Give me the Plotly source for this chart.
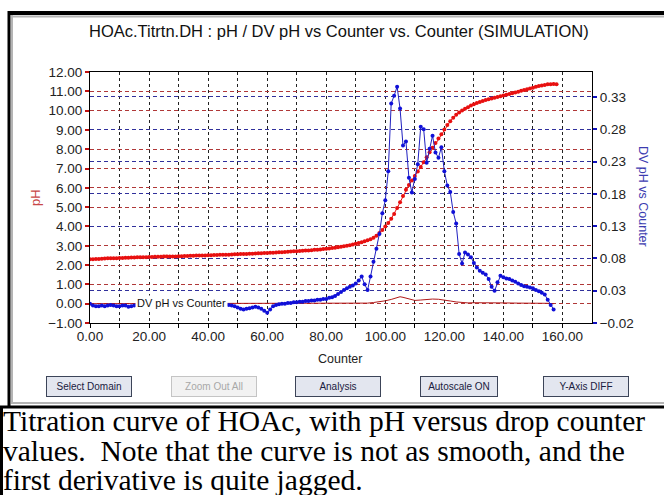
import plotly.graph_objects as go

# ---------------- DATA ----------------
counter_ph = list(range(0, 159))
ph_values = [
    2.30, 2.30, 2.31, 2.32, 2.33, 2.34, 2.35, 2.35, 2.36, 2.36,
    2.37, 2.37, 2.38, 2.38, 2.39, 2.39, 2.40, 2.40, 2.41, 2.41,
    2.42, 2.42, 2.43, 2.43, 2.43, 2.44, 2.44, 2.45, 2.45, 2.45,
    2.46, 2.46, 2.47, 2.47, 2.48, 2.48, 2.49, 2.49, 2.50, 2.50,
    2.51, 2.51, 2.52, 2.52, 2.53, 2.53, 2.54, 2.54, 2.55, 2.56,
    2.56, 2.57, 2.57, 2.58, 2.59, 2.59, 2.60, 2.61, 2.61, 2.62,
    2.63, 2.64, 2.64, 2.65, 2.66, 2.67, 2.68, 2.69, 2.70, 2.71,
    2.72, 2.73, 2.74, 2.75, 2.76, 2.77, 2.79, 2.80, 2.81, 2.83,
    2.84, 2.86, 2.88, 2.90, 2.92, 2.95, 2.97, 3.00, 3.03, 3.06,
    3.10, 3.14, 3.18, 3.23, 3.28, 3.34, 3.42, 3.52, 3.66, 3.82,
    4.00, 4.18, 4.40, 4.65, 4.95, 5.25, 5.58, 5.90, 6.15, 6.38,
    6.62, 6.85, 7.08, 7.32, 7.58, 7.84, 8.08, 8.32, 8.55, 8.78,
    9.02, 9.25, 9.45, 9.63, 9.78, 9.90, 10.00, 10.10, 10.18, 10.26,
    10.33, 10.39, 10.45, 10.50, 10.55, 10.59, 10.63, 10.67, 10.70, 10.74,
    10.78, 10.82, 10.86, 10.90, 10.94, 10.98, 11.03, 11.07, 11.11, 11.15,
    11.19, 11.23, 11.27, 11.30, 11.33, 11.36, 11.37, 11.38, 11.37,
]

counter_dv = list(range(0, 158))
dv_values = [
    0.010, 0.007, 0.006, 0.006, 0.007, 0.006, 0.007, 0.008, 0.007, 0.006,
    0.006, 0.007, 0.007, 0.005, 0.006, 0.007, 0.007, 0.006, 0.007, 0.007,
    0.006, 0.007, 0.007, 0.006, 0.007, 0.007, 0.006, 0.007, 0.007, 0.007,
    0.006, 0.007, 0.007, 0.006, 0.007, 0.007, 0.006, 0.007, 0.007, 0.007,
    0.006, 0.007, 0.007, 0.007, 0.007, 0.008, 0.008, 0.008, 0.007, 0.006,
    0.004, 0.002, 0.001, 0.002, 0.003, 0.004, 0.005, 0.004, 0.002, -0.001,
    -0.004, 0.001, 0.006, 0.008, 0.009, 0.010, 0.010, 0.011, 0.011, 0.012,
    0.012, 0.013, 0.013, 0.014, 0.014, 0.015, 0.015, 0.016, 0.016, 0.017,
    0.017, 0.019, 0.020, 0.022, 0.025, 0.028, 0.031, 0.034, 0.036, 0.038,
    0.041, 0.046, 0.052, 0.040, 0.031, 0.052, 0.075, 0.095, 0.118, 0.150,
    0.170, 0.215, 0.320, 0.332, 0.346, 0.312, 0.255, 0.261, 0.205, 0.182,
    0.203, 0.226, 0.284, 0.280, 0.228, 0.250, 0.270, 0.244, 0.236, 0.252,
    0.215, 0.193, 0.183, 0.152, 0.134, 0.087, 0.072, 0.089, 0.086, 0.082,
    0.073, 0.066, 0.061, 0.058, 0.055, 0.048, 0.036, 0.030, 0.043, 0.053,
    0.051, 0.049, 0.048, 0.046, 0.044, 0.041, 0.039, 0.037, 0.036, 0.035,
    0.034, 0.031, 0.029, 0.027, 0.024, 0.016, 0.008, 0.001,
]

counter_aux = [0, 10, 20, 30, 40, 50, 60, 70, 80, 90, 92, 94, 96, 98, 100, 102,
               104, 105, 106, 108, 110, 112, 114, 116, 118, 120, 122, 124, 126,
               128, 130, 135, 140, 145, 150, 155, 157]
aux_values = [0.00, 0.00, 0.00, 0.00, 0.00, 0.00, 0.00, 0.00, 0.00, 0.00, 0.01,
              0.03, 0.06, 0.10, 0.15, 0.22, 0.32, 0.36, 0.33, 0.24, 0.17, 0.19,
              0.22, 0.24, 0.23, 0.20, 0.14, 0.09, 0.05, 0.04, 0.05, 0.03, 0.04,
              0.03, 0.04, 0.02, 0.00]

x_tick_vals = [0, 10, 20, 30, 40, 50, 60, 70, 80, 90, 100, 110, 120, 130, 140, 150, 160]
x_tick_text = ["0.00", "", "20.00", "", "40.00", "", "60.00", "", "80.00", "",
               "100.00", "", "120.00", "", "140.00", "", "160.00"]
y2_tick_vals = [-0.02, 0.03, 0.08, 0.13, 0.18, 0.23, 0.28, 0.33]

title_text = "HOAc.Titrtn.DH : pH / DV pH vs Counter vs. Counter (SIMULATION)"
button_labels = ["Select Domain", "Zoom Out All", "Analysis", "Autoscale ON", "Y-Axis DIFF"]
caption_lines = [
    "Titration curve of HOAc, with pH versus drop counter",
    "values.  Note that the curve is not as smooth, and the",
    "first derivative is quite jagged.",
]

# ---------------- LAYOUT GEOMETRY ----------------
W, H = 664, 495
L, R, T, B = 90, 592, 72, 323


def fx(px):
    return (px - L) / (R - L)


def fy(py):
    return (B - py) / (B - T)


FONT = "Arial, Liberation Sans, sans-serif"

fig = go.Figure()

fig.add_trace(go.Scatter(
    x=counter_aux, y=aux_values, mode="lines",
    line=dict(color="#b01818", width=1), yaxis="y", showlegend=False))

fig.add_trace(go.Scatter(
    x=counter_dv, y=dv_values, mode="lines+markers",
    line=dict(color="#2020c0", width=1),
    marker=dict(color="#1010d8", size=4), yaxis="y2", showlegend=False))

fig.add_trace(go.Scatter(
    x=counter_ph, y=ph_values, mode="lines+markers",
    line=dict(color="#e81010", width=1),
    marker=dict(color="#e81010", size=4), yaxis="y", showlegend=False))

shapes = []
# outer frame (black) and inner grey bevel
shapes.append(dict(type="line", xref="paper", yref="paper", x0=fx(8), x1=fx(670),
                   y0=fy(13), y1=fy(13), line=dict(color="black", width=4)))
shapes.append(dict(type="line", xref="paper", yref="paper", x0=fx(12), x1=fx(670),
                   y0=fy(16.5), y1=fy(16.5), line=dict(color="#b4b4b4", width=2)))
shapes.append(dict(type="line", xref="paper", yref="paper", x0=fx(9), x1=fx(9),
                   y0=fy(11), y1=fy(408), line=dict(color="black", width=3)))
shapes.append(dict(type="line", xref="paper", yref="paper", x0=fx(12), x1=fx(12),
                   y0=fy(15), y1=fy(404), line=dict(color="#b4b4b4", width=2)))
shapes.append(dict(type="line", xref="paper", yref="paper", x0=fx(12), x1=fx(670),
                   y0=fy(403), y1=fy(403), line=dict(color="#b4b4b4", width=2)))
shapes.append(dict(type="line", xref="paper", yref="paper", x0=fx(0), x1=fx(670),
                   y0=fy(407), y1=fy(407), line=dict(color="black", width=3)))
shapes.append(dict(type="line", xref="paper", yref="paper", x0=fx(1.5), x1=fx(1.5),
                   y0=fy(406), y1=fy(500), line=dict(color="black", width=3)))

annotations = []
annotations.append(dict(text=title_text, xref="paper", yref="paper", x=fx(339), y=fy(31),
                        xanchor="center", yanchor="middle", showarrow=False,
                        font=dict(family=FONT, size=16.5, color="#111")))
annotations.append(dict(text="Counter", xref="paper", yref="paper", x=fx(340), y=fy(359),
                        xanchor="center", yanchor="middle", showarrow=False,
                        font=dict(family=FONT, size=12.5, color="#222")))
annotations.append(dict(text="pH", xref="paper", yref="paper", x=fx(35), y=fy(198),
                        xanchor="center", yanchor="middle", showarrow=False, textangle=-90,
                        font=dict(family=FONT, size=13, color="#c84848")))
annotations.append(dict(text="DV pH vs Counter", xref="paper", yref="paper", x=fx(643), y=fy(196),
                        xanchor="center", yanchor="middle", showarrow=False, textangle=90,
                        font=dict(family=FONT, size=12.5, color="#3c3cb0")))
annotations.append(dict(text="DV pH vs Counter", xref="paper", yref="paper", x=fx(135), y=fy(303),
                        xanchor="left", yanchor="middle", showarrow=False, bgcolor="white",
                        borderpad=1, font=dict(family=FONT, size=11, color="#111")))

# buttons
btn_centers = [89, 214, 337.5, 459, 585.5]
btn_widths = [84, 84, 84, 76, 84]
for lbl, cx, bw in zip(button_labels, btn_centers, btn_widths):
    disabled = lbl == "Zoom Out All"
    annotations.append(dict(
        text=lbl, xref="paper", yref="paper", x=fx(cx), y=fy(386),
        xanchor="center", yanchor="middle", showarrow=False,
        width=bw - 2, height=17,
        bgcolor="#f2f2f2" if disabled else "#e3e6ef",
        bordercolor="#c4c4c4" if disabled else "#3c4458", borderwidth=1,
        font=dict(family=FONT, size=10, color="#a8a8a8" if disabled else "#1a2040")))

# caption
caption_y = [421, 451, 479.5]
for line, cy in zip(caption_lines, caption_y):
    annotations.append(dict(text=line, xref="paper", yref="paper", x=fx(1), y=fy(cy),
                            xanchor="left", yanchor="middle", showarrow=False,
                            font=dict(family="Liberation Serif, Times New Roman, serif",
                                      size=29.5, color="#000")))

fig.update_layout(
    width=W, height=H,
    margin=dict(l=L, r=W - R, t=T, b=H - B, pad=0),
    paper_bgcolor="white", plot_bgcolor="white",
    showlegend=False,
    xaxis=dict(range=[0, 170], tickvals=x_tick_vals, ticktext=x_tick_text,
               ticks="outside", ticklen=4, tickwidth=1, tickcolor="black",
               ticklabelstandoff=-3,
               showline=True, linecolor="black", linewidth=1, mirror=True,
               showgrid=True, gridcolor="#222", griddash="3px,3px", gridwidth=1,
               zeroline=False, tickfont=dict(family=FONT, size=13.5, color="#222")),
    yaxis=dict(range=[-1, 12], tick0=0, dtick=1, tickformat=".2f",
               ticks="outside", ticklen=4, tickwidth=2, tickcolor="#c01010",
               showline=True, linecolor="black", linewidth=1,
               showgrid=True, gridcolor="#b03838", griddash="4px,3px", gridwidth=1,
               zeroline=False, tickfont=dict(family=FONT, size=13.5, color="#222")),
    yaxis2=dict(range=[-0.02, 0.3687], overlaying="y", side="right",
                tickvals=y2_tick_vals, tickformat=".2f",
                ticks="outside", ticklen=4, tickwidth=2, tickcolor="#1010c0",
                showline=True, linecolor="black", linewidth=1,
                showgrid=True, gridcolor="#30309c", griddash="4px,3px", gridwidth=1,
                zeroline=False, tickfont=dict(family=FONT, size=13.5, color="#222")),
    shapes=shapes,
    annotations=annotations,
)

fig.write_html("out.html", config={"displayModeBar": False},
               post_script="document.body.style.margin='0px';document.body.style.overflow='hidden';")
